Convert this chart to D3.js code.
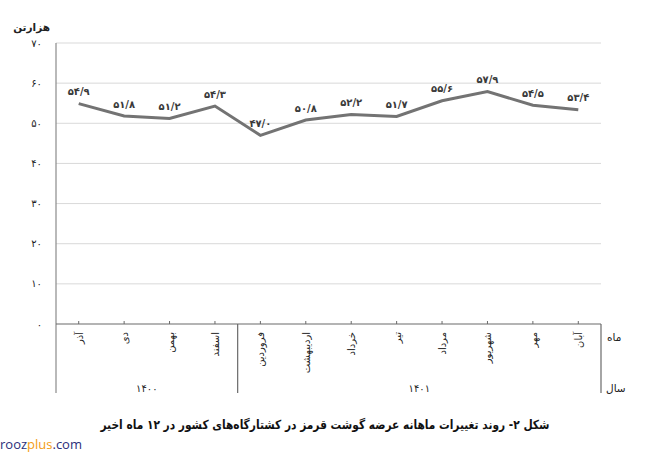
<!DOCTYPE html>
<html><head><meta charset="utf-8">
<script src="https://cdn.jsdelivr.net/npm/d3@7"></script>
<style>
html,body{margin:0;padding:0;background:#fff;}
svg{display:block;font-family:"DejaVu Sans",sans-serif;}
</style></head>
<body>
<svg id="chart" width="654" height="452"></svg>
<script>
const months = ["آذر","دی","بهمن","اسفند","فروردین","اردیبهشت","خرداد","تیر","مرداد","شهریور","مهر","آبان"];
const values = [54.9, 51.8, 51.2, 54.3, 47.0, 50.8, 52.2, 51.7, 55.6, 57.9, 54.5, 53.4];
const years = ["۱۴۰۰","۱۴۰۱"];
const yearSpans = [4, 8];
const yTicks = [0,10,20,30,40,50,60,70];
const yUnit = "هزارتن";
const rowLabels = ["ماه","سال"];
const caption = "شکل ۲- روند تغییرات ماهانه عرضه گوشت قرمز در کشتارگاه‌های کشور در ۱۲ ماه اخیر";

const fa = s => String(s).replace(/[0-9]/g, d => "۰۱۲۳۴۵۶۷۸۹"[+d]);
const faDec = v => fa(v.toFixed(1)).replace(".", "/");

const svg = d3.select("#chart");
const L = 56, R = 601, T = 43, B = 324;
const x = d3.scaleBand().domain(d3.range(months.length)).range([L, R]).paddingInner(0).paddingOuter(0);
const y = d3.scaleLinear().domain([0, 70]).range([B, T]);
const cx = i => x(i) + x.bandwidth()/2;

// gridlines
svg.append("g").selectAll("line").data(yTicks.filter(t => t > 0)).join("line")
  .attr("x1", L).attr("x2", R).attr("y1", d => y(d)).attr("y2", d => y(d))
  .attr("stroke", "#d9d9d9").attr("stroke-width", 1);

// y tick labels
svg.append("g").selectAll("text").data(yTicks).join("text")
  .attr("x", 42).attr("y", d => y(d)).attr("dy", "0.35em")
  .attr("text-anchor", "end").attr("font-size", 10).attr("fill", "#222")
  .text(d => fa(d));

svg.append("text").attr("x", 50).attr("y", 31).attr("text-anchor", "end")
  .attr("font-size", 10.5).attr("font-weight", "bold").attr("fill", "#222").text(yUnit);

// left axis
svg.append("line").attr("x1", L).attr("x2", L).attr("y1", T).attr("y2", 393)
  .attr("stroke", "#8a8a8a").attr("stroke-width", 1.2);
// x axis
svg.append("line").attr("x1", L).attr("x2", R).attr("y1", B).attr("y2", B)
  .attr("stroke", "#6a6a6a").attr("stroke-width", 1.2);
// category ticks
svg.append("g").selectAll("line").data(d3.range(months.length)).join("line")
  .attr("x1", cx).attr("x2", cx).attr("y1", B - 3).attr("y2", B)
  .attr("stroke", "#6a6a6a").attr("stroke-width", 1);

// year separators
let acc = 0;
const sepIdx = [];
yearSpans.forEach(s => { acc += s; sepIdx.push(acc); });
svg.append("g").selectAll("line").data(sepIdx).join("line")
  .attr("x1", d => d >= months.length ? R : x(d)).attr("x2", d => d >= months.length ? R : x(d))
  .attr("y1", B).attr("y2", 393).attr("stroke", "#6a6a6a").attr("stroke-width", 1.2);

// month labels
svg.append("g").selectAll("text").data(months).join("text")
  .attr("transform", (d, i) => `translate(${cx(i) + 4},${B + 8}) rotate(-90)`)
  .attr("text-anchor", "end").attr("font-size", 10).attr("fill", "#222")
  .text(d => d);

// year labels
let start = 0;
years.forEach((yr, k) => {
  const a = x(start), b = start + yearSpans[k] >= months.length ? R : x(start + yearSpans[k]);
  svg.append("text").attr("x", (a + b)/2).attr("y", 388).attr("dy", "0.35em")
    .attr("text-anchor", "middle").attr("font-size", 10).attr("fill", "#222").text(yr);
  start += yearSpans[k];
});

svg.append("text").attr("x", 607).attr("y", 337).attr("dy", "0.35em")
  .attr("font-size", 10.5).attr("fill", "#222").text(rowLabels[0]);
svg.append("text").attr("x", 606).attr("y", 388).attr("dy", "0.35em")
  .attr("font-size", 10.5).attr("fill", "#222").text(rowLabels[1]);

// line
const line = d3.line().x((d, i) => cx(i)).y(d => y(d));
svg.append("path").datum(values).attr("d", line)
  .attr("fill", "none").attr("stroke", "#737373").attr("stroke-width", 3)
  .attr("stroke-linejoin", "miter");

// data labels
svg.append("g").selectAll("text").data(values).join("text")
  .attr("x", (d, i) => cx(i)).attr("y", d => y(d) - 12).attr("dy", "0.35em")
  .attr("text-anchor", "middle").attr("font-size", 10).attr("font-weight", "bold").attr("fill", "#3a3a3a")
  .text(d => faDec(d));

// caption
svg.append("text").attr("x", 325).attr("y", 425).attr("dy", "0.35em")
  .attr("text-anchor", "middle").attr("font-size", 12.5).attr("font-weight", "bold").attr("fill", "#111")
  .attr("font-family", "'DejaVu Sans Condensed','DejaVu Sans',sans-serif")
  .attr("textLength", 449).attr("lengthAdjust", "spacingAndGlyphs")
  .text(caption);

// watermark
const wm = svg.append("text").attr("x", 0).attr("y", 449).attr("font-size", 13)
  .attr("font-family", "'Open Sans', sans-serif");
wm.append("tspan").attr("fill", "#2b2f7a").text("rooz");
wm.append("tspan").attr("fill", "#f39c12").text("plus");
wm.append("tspan").attr("fill", "#2b2f7a").text(".com");
</script>
</body></html>
